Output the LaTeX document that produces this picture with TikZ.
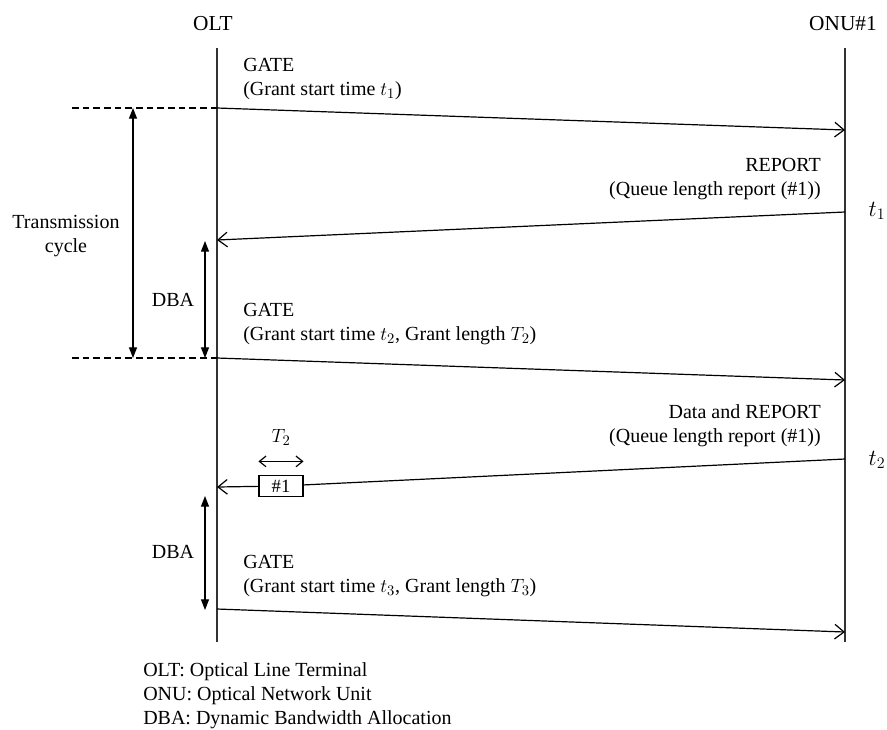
\documentclass[tikz,border=0pt]{standalone}
\usepackage{fontspec}
\setmainfont{Liberation Serif}
\usetikzlibrary{positioning, arrows.meta, calc}
\tikzset{
    lifeline/.style={line width=1.5pt, black!80},
    msg/.style={-{Straight Barb[length=7pt, width=11pt]}, line width=0.9pt},
    span/.style={{Triangle[length=8pt, width=6pt]}-{Triangle[length=8pt, width=6pt]}, line width=0.9pt},
    tspan/.style={{Straight Barb[length=5pt, width=8pt]}-{Straight Barb[length=5pt, width=8pt]}, line width=0.9pt},
    guide/.style={line width=0.9pt, dash pattern=on 5pt off 3pt},
    mlabel/.style={font=\fontsize{15}{18}\selectfont, inner sep=0pt},
    tlabel/.style={font=\fontsize{17}{20}\selectfont, inner sep=0pt},
    pktbox/.style={draw, line width=0.9pt, fill=white, minimum width=33pt, minimum height=16pt, inner sep=0pt, font=\fontsize{14}{16}\selectfont}
}

\begin{document}
\begin{tikzpicture}[x=0.75pt, y=-0.75pt]
\useasboundingbox (0,0) rectangle (887,729);

% lifelines
\node[mlabel, font=\fontsize{16}{18}\selectfont] (olt) at (213,24) {OLT};
\node[mlabel, font=\fontsize{16}{18}\selectfont] (onu) at (843,24) {ONU\#1};
\coordinate (olt top) at (217,48);
\coordinate (olt end) at (217,642);
\coordinate (onu top) at (845,48);
\coordinate (onu end) at (845,642);
\draw[lifeline] (olt top) -- (olt end);
\draw[lifeline] (onu top) -- (onu end);

% message end points
\coordinate (gate1 s) at (217,108);
\coordinate (gate1 e) at (845,130);
\coordinate (rep1 s) at (845,212);
\coordinate (rep1 e) at (217,240);
\coordinate (gate2 s) at (217,358);
\coordinate (gate2 e) at (845,380);
\coordinate (rep2 s) at (845,459);
\coordinate (rep2 e) at (217,487);
\coordinate (gate3 s) at (217,609);
\coordinate (gate3 e) at (845,632);

% messages
\draw[msg] (gate1 s) -- (gate1 e);
\node[mlabel, align=left, anchor=south west] (gate1 txt) at (243,100) {GATE\\(Grant start time $t_1$)};
\draw[msg] (rep1 s) -- (rep1 e);
\node[mlabel, align=right, anchor=south east] (rep1 txt) at (821,200) {REPORT\\(Queue length report (\#1))};
\node[tlabel] (t1) at (877,211) {$t_1$};

\draw[msg] (gate2 s) -- (gate2 e);
\node[mlabel, align=left, anchor=south west] (gate2 txt) at (243,345) {GATE\\(Grant start time $t_2$, Grant length $T_2$)};

\node[pktbox] (pkt) at (281,486) {\#1};
\draw[line width=0.9pt] (rep2 s) -- (pkt);
\draw[msg] (pkt) -- (rep2 e);
\node[mlabel, align=right, anchor=south east] (rep2 txt) at (821,447) {Data and REPORT\\(Queue length report (\#1))};
\node[tlabel] (t2) at (877,460) {$t_2$};
\coordinate (tl) at ([yshift=10pt]pkt.north west);
\coordinate (tr) at ([yshift=10pt]pkt.north east);
\draw[tspan] (tl) -- (tr);
\node[mlabel, above=22pt of pkt.north] (T2) {$T_2$};

\draw[msg] (gate3 s) -- (gate3 e);
\node[mlabel, align=left, anchor=south west] (gate3 txt) at (243,597) {GATE\\(Grant start time $t_3$, Grant length $T_3$)};

% cycle and DBA spans
\coordinate (dash1) at (72,108);
\coordinate (dash2) at (72,358);
\draw[guide] (dash1) -- (gate1 s);
\draw[guide] (dash2) -- (gate2 s);
\coordinate (cyc top) at (133,108);
\coordinate (cyc bot) at (133,358);
\draw[span] (cyc top) -- (cyc bot);
\node[mlabel, align=center] (cyc txt) at (66,236) {Transmission\\cycle};
\coordinate (dba1 top) at (205,241);
\coordinate (dba1 bot) at (205,358);
\draw[span] (dba1 top) -- (dba1 bot);
\node[mlabel] (dba1) at (173,300) {DBA};
\coordinate (dba2 top) at (205,496);
\coordinate (dba2 bot) at (205,610);
\draw[span] (dba2 top) -- (dba2 bot);
\node[mlabel] (dba2) at (173,552) {DBA};

% legend
\node[mlabel, align=left, anchor=north west] (legend) at (143,662)
    {OLT: Optical Line Terminal\\ONU: Optical Network Unit\\DBA: Dynamic Bandwidth Allocation};
\end{tikzpicture}
\end{document}
